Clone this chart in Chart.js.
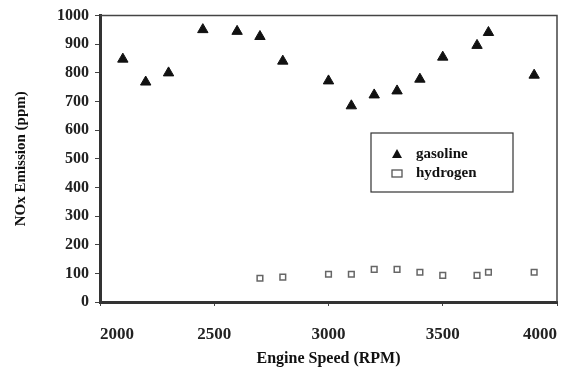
<!DOCTYPE html>
<html>
<head>
<meta charset="utf-8">
<script src="https://cdn.jsdelivr.net/npm/chart.js@4/dist/chart.umd.min.js"></script>
<style>
  html, body { margin: 0; padding: 0; background: #fff; }
  #wrap { width: 572px; height: 371px; }
</style>
</head>
<body>
<div id="wrap"><canvas id="noxChart"></canvas></div>
<script>
const gasolineRpm = [2100, 2200, 2300, 2450, 2600, 2700, 2800, 3000, 3100, 3200, 3300, 3400, 3500, 3650, 3700, 3900];
const gasolineNox = [848, 768, 800, 951, 945, 927, 841, 772, 685, 723, 737, 778, 855, 896, 941, 792];
const hydrogenRpm = [2700, 2800, 3000, 3100, 3200, 3300, 3400, 3500, 3650, 3700, 3900];
const hydrogenNox = [83, 87, 97, 97, 114, 114, 104, 93, 93, 104, 104];
const seriesNames = ['gasoline', 'hydrogen'];

const toPoints = (xs, ys) => xs.map((x, i) => ({ x: x, y: ys[i] }));

const serif = 'Liberation Serif';

// frame on top/right plus the legend box inside the plot
const frameAndLegend = {
    id: 'frameAndLegend',
    afterDraw: (chart) => {
        const ctx = chart.ctx;
        const { top, left, right, bottom } = chart.chartArea;
        ctx.save();
        ctx.strokeStyle = '#444';
        ctx.lineWidth = 1.5;
        ctx.beginPath();
        ctx.moveTo(left, top);
        ctx.lineTo(right, top);
        ctx.lineTo(right, bottom);
        ctx.stroke();

        const bx = 371, by = 133, bw = 142, bh = 59;
        ctx.lineWidth = 1.2;
        ctx.strokeStyle = '#333';
        ctx.strokeRect(bx, by, bw, bh);

        ctx.font = 'bold 15px "' + serif + '"';
        ctx.textBaseline = 'middle';
        chart.data.datasets.forEach((ds, i) => {
            const cy = by + 21 + i * 19;
            const cx = bx + 26;
            if (i === 0) {
                ctx.beginPath();
                ctx.moveTo(cx, cy - 5);
                ctx.lineTo(cx + 5, cy + 4);
                ctx.lineTo(cx - 5, cy + 4);
                ctx.closePath();
                ctx.fillStyle = '#111';
                ctx.fill();
            } else {
                ctx.strokeStyle = '#555';
                ctx.lineWidth = 1.3;
                ctx.strokeRect(cx - 5, cy - 3, 10, 7);
            }
            ctx.fillStyle = '#111';
            ctx.fillText(ds.label, bx + 45, cy);
        });
        ctx.restore();
    }
};

new Chart(document.getElementById('noxChart'), {
    type: 'scatter',
    data: {
        datasets: [{
            label: seriesNames[0],
            data: toPoints(gasolineRpm, gasolineNox),
            pointStyle: 'triangle',
            pointRadius: 6,
            backgroundColor: '#111',
            borderColor: '#111',
            borderWidth: 1
        }, {
            label: seriesNames[1],
            data: toPoints(hydrogenRpm, hydrogenNox),
            pointStyle: 'rect',
            pointRadius: 4,
            backgroundColor: '#fff',
            borderColor: '#666',
            borderWidth: 1.5
        }]
    },
    plugins: [frameAndLegend],
    options: {
        responsive: true,
        maintainAspectRatio: false,
        animation: false,
        layout: { padding: { left: 0, right: 0, top: 13, bottom: 0 } },
        plugins: {
            legend: { display: false },
            tooltip: { enabled: false }
        },
        scales: {
            x: {
                type: 'linear',
                min: 2000,
                max: 4000,
                ticks: {
                    stepSize: 500, color: '#222', maxRotation: 0, padding: 18, align: 'inner',
                    font: { family: serif, weight: 'bold', size: 17 },
                    callback: (v) => String(v)
                },
                grid: { drawOnChartArea: false, drawTicks: true, tickLength: 4, color: '#444' },
                border: { width: 3, color: '#333' },
                title: {
                    display: true, text: 'Engine Speed (RPM)', color: '#111',
                    font: { family: serif, weight: 'bold', size: 16 },
                    padding: { top: 0, bottom: 3 }
                },
                afterFit: (scale) => { scale.height = 69; scale.paddingRight = 15; }
            },
            y: {
                min: 0,
                max: 1000,
                ticks: {
                    stepSize: 100, color: '#222', padding: 6,
                    font: { family: serif, weight: 'bold', size: 16 },
                    callback: (v) => String(v)
                },
                grid: { drawOnChartArea: false, drawTicks: true, tickLength: 5, color: '#444' },
                border: { width: 3, color: '#333' },
                title: {
                    display: true, text: 'NOx Emission (ppm)', color: '#111',
                    font: { family: serif, weight: 'bold', size: 15 },
                    padding: { top: 12, bottom: 4 }
                },
                afterFit: (scale) => { scale.width = 100; }
            }
        }
    }
});
</script>
</body>
</html>
